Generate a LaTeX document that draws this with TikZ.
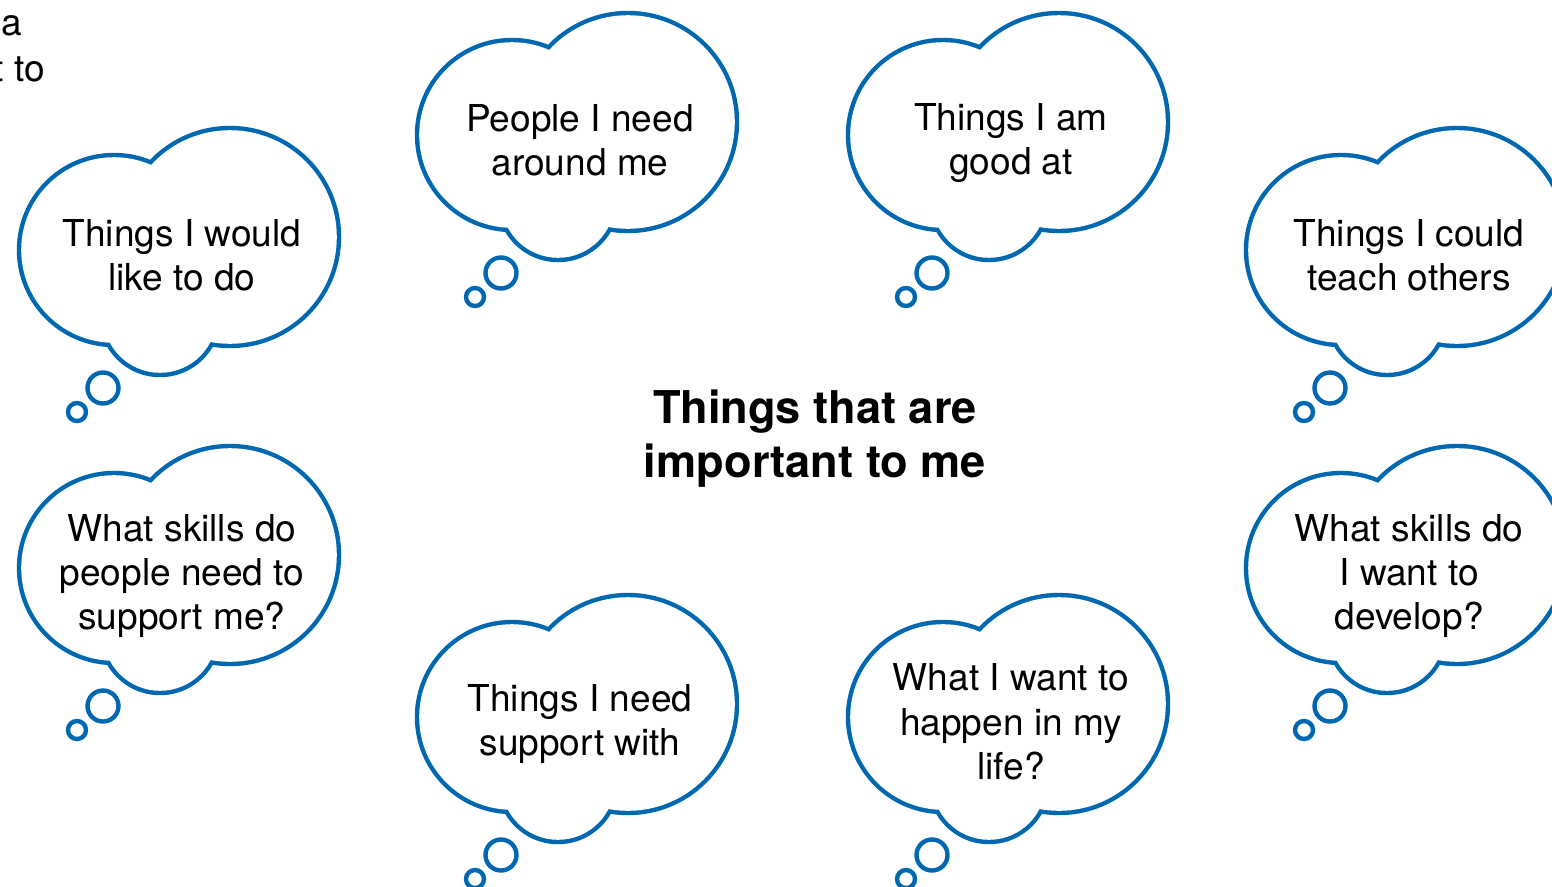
\documentclass[tikz,border=0pt]{standalone}
\usepackage{fontspec}
\setmainfont{TeX Gyre Heros}
\definecolor{cloudblue}{RGB}{0,103,177}

\tikzset{
  cloudtext/.style={align=center, font=\fontsize{21.1}{25.2}\selectfont, inner sep=0pt},
  titletext/.style={align=center, font=\bfseries\fontsize{25.7}{30.7}\selectfont, inner sep=0pt},
  bubble/.style={draw=cloudblue, line width=2.5pt},
  thought/.pic={
    % outline of three lobes: blue discs, then smaller white discs
    \fill[cloudblue] (-68,-5) circle[radius=97.2] (48,-18) circle[radius=111.2] (-22,61) circle[radius=61.2];
    \fill[white] (-68,-5) circle[radius=92.8] (48,-18) circle[radius=106.8] (-22,61) circle[radius=56.8];
    % the two small bubbles
    \draw[bubble] (-79,133) circle[radius=15.5];
    \draw[bubble] (-105,157) circle[radius=9];
  }
}

\begin{document}
\begin{tikzpicture}[x=0.02cm, y=-0.02cm]
	\useasboundingbox (0,0) rectangle (1552,886);

	% clouds
	\pic at (580,140) {thought};
	\pic at (1011,140) {thought};
	\pic at (182,255) {thought};
	\pic at (1409,255) {thought};
	\pic at (182,573) {thought};
	\pic at (1409,573) {thought};
	\pic at (580,722) {thought};
	\pic at (1011,722) {thought};

	% texts
	\node[cloudtext] (people) at (580,140) {People I need\\around me};
	\node[cloudtext] (goodat) at (1011,143) {Things I am\\good at};
	\node[cloudtext] (liketodo) at (182,255) {Things I would\\like to do};
	\node[cloudtext] (teach) at (1409,255) {Things I could\\teach others};
	\node[cloudtext] (skillsothers) at (182,576) {What skills do\\people need to\\support me?};
	\node[cloudtext] (skillsme) at (1409,576) {What skills do\\I want to\\develop?};
	\node[cloudtext] (support) at (580,724) {Things I need\\support with};
	\node[cloudtext] (happen) at (1011,722) {What I want to\\happen in my\\life?};

	\node[titletext] (title) at (815,439) {Things that are\\important to me};

	% cut-off words at the top left
	\node[cloudtext, anchor=base east] (cuta) at (22.5,35.7) {a};
	\node[cloudtext, anchor=base east] (cutto) at (45.5,81.7) {t to};
\end{tikzpicture}
\end{document}
